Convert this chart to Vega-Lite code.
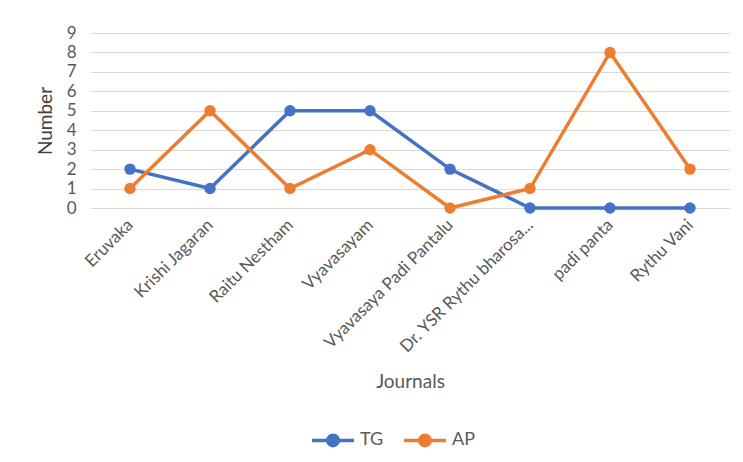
{
  "$schema": "https://vega.github.io/schema/vega-lite/v6.json",
  "width": 640,
  "height": 175,
  "autosize": {"type": "none"},
  "padding": {"left": 90, "top": 33, "right": 13, "bottom": 254},
  "background": "white",
  "config": {
    "font": "Lato",
    "view": {"stroke": null}
  },
  "data": {
    "values": [
      {"journal": "Eruvaka", "series": "TG", "number": 2},
      {"journal": "Krishi Jagaran", "series": "TG", "number": 1},
      {"journal": "Raitu Nestham", "series": "TG", "number": 5},
      {"journal": "Vyavasayam", "series": "TG", "number": 5},
      {"journal": "Vyavasaya Padi Pantalu", "series": "TG", "number": 2},
      {"journal": "Dr. YSR Rythu bharosa...", "series": "TG", "number": 0},
      {"journal": "padi panta", "series": "TG", "number": 0},
      {"journal": "Rythu Vani", "series": "TG", "number": 0},
      {"journal": "Eruvaka", "series": "AP", "number": 1},
      {"journal": "Krishi Jagaran", "series": "AP", "number": 5},
      {"journal": "Raitu Nestham", "series": "AP", "number": 1},
      {"journal": "Vyavasayam", "series": "AP", "number": 3},
      {"journal": "Vyavasaya Padi Pantalu", "series": "AP", "number": 0},
      {"journal": "Dr. YSR Rythu bharosa...", "series": "AP", "number": 1},
      {"journal": "padi panta", "series": "AP", "number": 8},
      {"journal": "Rythu Vani", "series": "AP", "number": 2}
    ]
  },
  "mark": {
    "type": "line",
    "strokeWidth": 3.5,
    "point": {"filled": true, "size": 130}
  },
  "encoding": {
    "x": {
      "field": "journal",
      "type": "nominal",
      "sort": null,
      "scale": {"type": "point", "padding": 0.5},
      "axis": {
        "title": "Journals",
        "titleFontSize": 19,
        "titleFontWeight": "normal",
        "titleColor": "#595959",
        "titlePadding": 17,
        "labelAngle": -45,
        "labelAlign": "right",
        "labelBaseline": "middle",
        "labelFontSize": 17,
        "labelColor": "#595959",
        "labelPadding": 14,
        "labelDx": 3,
        "labelDy": 8,
        "labelLimit": 400,
        "ticks": false,
        "domain": false,
        "grid": false
      }
    },
    "y": {
      "field": "number",
      "type": "quantitative",
      "scale": {"domain": [0, 9], "nice": false},
      "axis": {
        "title": "Number",
        "titleFontSize": 19,
        "titleFontWeight": "normal",
        "titleColor": "#404040",
        "titlePadding": 11,
        "values": [0, 1, 2, 3, 4, 5, 6, 7, 8, 9],
        "labelFontSize": 17,
        "labelColor": "#595959",
        "labelPadding": 14,
        "ticks": false,
        "domain": false,
        "grid": true,
        "gridColor": "#d9d9d9",
        "gridWidth": 1
      }
    },
    "color": {
      "field": "series",
      "type": "nominal",
      "sort": ["TG", "AP"],
      "scale": {"domain": ["TG", "AP"], "range": ["#4472C4", "#ED7D31"]},
      "legend": {
        "title": null,
        "orient": "none",
        "direction": "horizontal",
        "legendX": 220,
        "legendY": 384,
        "symbolType": "M-1,0H1M-0.25,0A0.25,0.25 0 1 1 0.25,0A0.25,0.25 0 1 1 -0.25,0Z",
        "symbolSize": 1764,
        "symbolStrokeWidth": 3.5,
        "labelFontSize": 18,
        "labelColor": "#595959",
        "labelOffset": 4,
        "columnPadding": 13
      }
    }
  }
}
